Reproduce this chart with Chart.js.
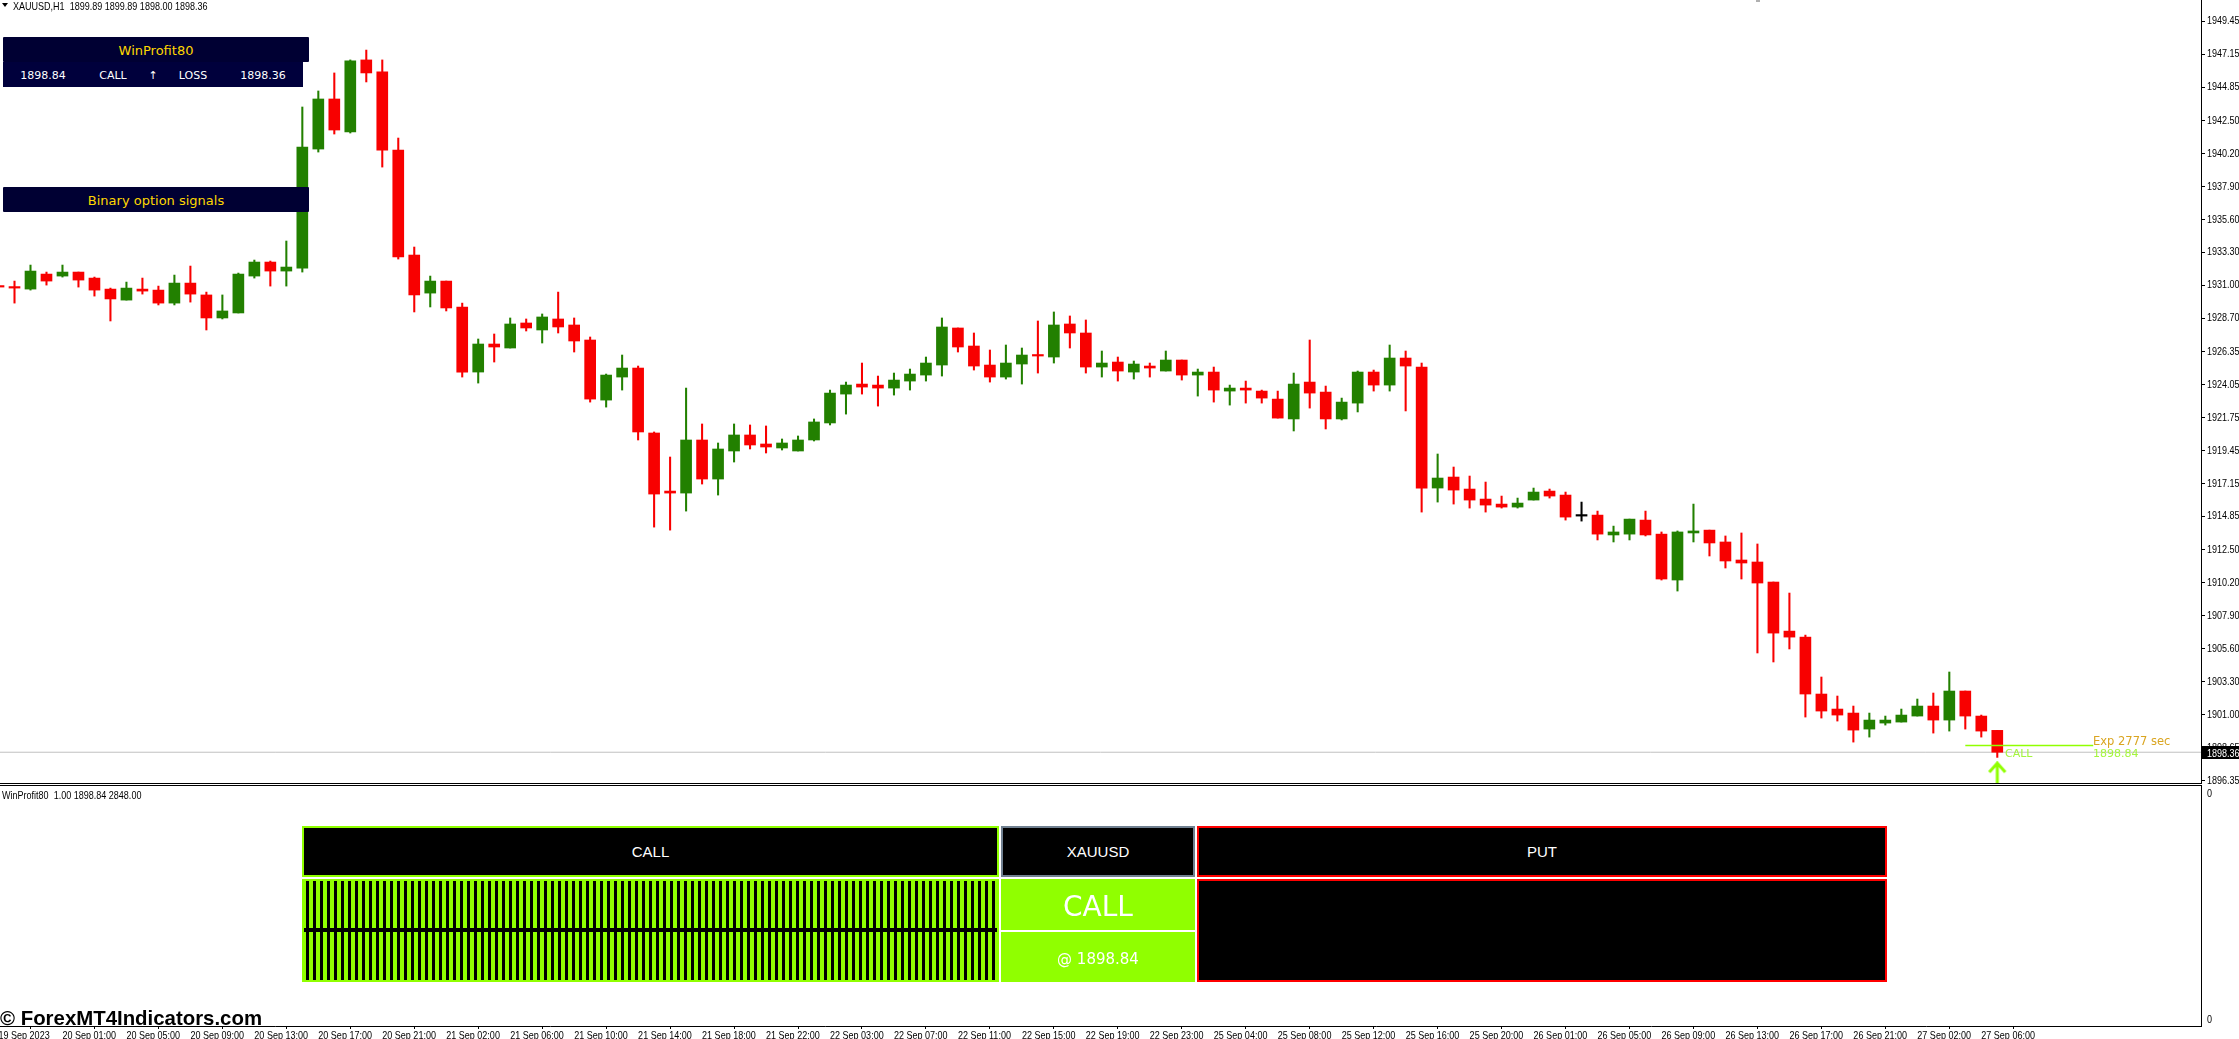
<!DOCTYPE html>
<html>
<head>
<meta charset="utf-8">
<title>XAUUSD H1</title>
<script src="https://cdn.jsdelivr.net/npm/chart.js@4/dist/chart.umd.min.js"></script>
<style>
    html, body { margin: 0; padding: 0; background: #fff; overflow: hidden; }
    #page { position: relative; width: 2239px; height: 1039px; overflow: hidden; }
    canvas { position: absolute; left: 0; display: block; }
    .box { position: absolute; box-sizing: border-box; display: flex; align-items: center; justify-content: center; white-space: pre; z-index: 5; }
    .txt { position: absolute; white-space: pre; z-index: 5; line-height: 1; }
    .sep { position: absolute; left: 0; width: 2202px; height: 1px; background: #000; z-index: 4; }
    .navy { background: #000033; color: #ffd700; font: 13px "DejaVu Sans", sans-serif; border-radius: 1px; padding-top: 2px; }
    .cell { background: #00003c; color: #fff; font: 11px "DejaVu Sans", sans-serif; padding-top: 2px; }
    .panel { background: #000; color: #fff; font: 15px "Liberation Sans", sans-serif; }
    .lime { background: #90ff00; color: #fff; }
    .small { font: 11px "Liberation Sans", sans-serif; color: #000; transform: scaleX(0.82); transform-origin: left center; }
    .stripes { background: repeating-linear-gradient(90deg, #90ff00 0, #90ff00 4px, #000 4px, #000 7px); background-position-x: -2px; }
</style>
</head>
<body>
<div id="page">
    <canvas id="priceChart" width="2239" height="790" style="top:0"></canvas>
    <canvas id="subChart" width="2239" height="253" style="top:786px"></canvas>
    <div class="sep" style="top:783px"></div>
    <div class="sep" style="top:785px"></div>
    <div style="position:absolute;left:1756px;top:0;width:4px;height:2px;background:#b0b0b0;"></div>

    <!-- chart header -->
    <div style="position:absolute;left:2px;top:3px;width:0;height:0;border-left:3.5px solid transparent;border-right:3.5px solid transparent;border-top:4px solid #000;z-index:5"></div>
    <div class="txt small" style="left:13px;top:0;">XAUUSD,H1  1899.89 1899.89 1898.00 1898.36</div>
    <div class="txt small" style="left:2px;top:789px;">WinProfit80  1.00 1898.84 2848.00</div>

    <!-- signal widgets, top left -->
    <div class="box navy" style="left:3px;top:37px;width:306px;height:25px;">WinProfit80</div>
    <div class="box cell" style="left:3px;top:62px;width:80px;height:25px;">1898.84</div>
    <div class="box cell" style="left:83px;top:62px;width:60px;height:25px;">CALL</div>
    <div class="box cell" style="left:143px;top:62px;width:20px;height:25px;">↑</div>
    <div class="box cell" style="left:163px;top:62px;width:60px;height:25px;">LOSS</div>
    <div class="box cell" style="left:223px;top:62px;width:80px;height:25px;">1898.36</div>
    <div class="box navy" style="left:3px;top:187px;width:306px;height:25px;">Binary option signals</div>

    <!-- labels next to the last bar -->
    <div class="txt" style="left:2005px;top:747px;font:11px 'DejaVu Sans',sans-serif;color:#a4f53c;">CALL</div>
    <div class="txt" style="left:2093px;top:734px;font:11.5px 'DejaVu Sans',sans-serif;color:#daa520;">Exp 2777 sec</div>
    <div class="txt" style="left:2093px;top:747px;font:11px 'DejaVu Sans',sans-serif;color:#a4f53c;">1898.84</div>
    <div class="box" style="left:2202px;top:746px;width:37px;height:13px;background:#000;z-index:5;"></div>
    <div class="txt small" style="left:2207px;top:747px;color:#fff;z-index:6;">1898.36</div>

    <!-- dashboard in the lower panel -->
    <div class="box panel" style="left:302px;top:826px;width:697px;height:51px;border:2px solid #90ff00;">CALL</div>
    <div class="box stripes" style="left:302px;top:879px;width:697px;height:103px;border:2px solid #90ff00;"></div>
    <div class="box" style="left:304px;top:928px;width:693px;height:4px;background:#000;"></div>
    <div class="box panel" style="left:1001px;top:826px;width:194px;height:51px;border:2px solid #708090;">XAUUSD</div>
    <div class="box lime" style="left:1001px;top:879px;width:194px;height:51px;font:28px 'DejaVu Sans',sans-serif;padding-top:4px;">CALL</div>
    <div class="box lime" style="left:1001px;top:932px;width:194px;height:50px;font:15px 'DejaVu Sans',sans-serif;padding-top:4px;">@ 1898.84</div>
    <div class="box panel" style="left:1197px;top:826px;width:690px;height:51px;border:2px solid #ff0000;">PUT</div>
    <div class="box panel" style="left:1197px;top:879px;width:690px;height:103px;border:2px solid #ff0000;"></div>

    <div class="txt" style="left:0;top:1007px;font:bold 20.4px 'Liberation Sans',sans-serif;color:#000;">© ForexMT4Indicators.com</div>
</div>

<script>
// Hourly bars, first entry is the bar cut by the left edge
const opens = [1930.95, 1930.88, 1930.74, 1931.79, 1931.65, 1931.93, 1931.51, 1930.74, 1929.97, 1930.74, 1930.67, 1929.76, 1931.16, 1930.33, 1928.72, 1929.07, 1931.65, 1932.63, 1932.00, 1932.21, 1940.53, 1944.03, 1941.72, 1946.76, 1945.92, 1940.46,
    1933.12, 1930.46, 1931.30, 1929.49, 1924.94, 1926.90, 1926.62, 1928.37, 1927.88, 1928.65, 1928.23, 1927.18, 1922.98, 1924.59, 1925.22, 1920.68, 1916.62, 1916.48, 1920.19, 1917.46, 1919.42, 1920.54, 1919.91, 1919.63, 1919.42,
    1920.19, 1921.38, 1923.40, 1924.10, 1924.03, 1923.82, 1924.31, 1924.73, 1925.43, 1928.02, 1926.76, 1925.43, 1924.59, 1925.50, 1926.13, 1925.99, 1928.30, 1927.67, 1925.29, 1925.64, 1924.94, 1925.36, 1925.01, 1925.78, 1924.73, 1924.94,
    1923.61, 1923.82, 1923.61, 1923.05, 1921.66, 1924.24, 1923.54, 1921.66, 1922.77, 1924.94, 1924.03, 1925.92, 1925.29, 1916.83, 1917.60, 1916.76, 1916.06, 1915.71, 1915.50, 1915.99, 1916.62, 1916.34, 1914.87, 1914.94, 1913.55,
    1913.61, 1914.59, 1913.61, 1910.40, 1913.69, 1913.89, 1913.06, 1911.80, 1911.66, 1910.26, 1906.83, 1906.41, 1902.43, 1901.38, 1901.10, 1899.98, 1900.40, 1900.47, 1900.89, 1901.59, 1900.61, 1902.64, 1900.89, 1899.89];
const closes = [1930.88, 1930.81, 1932.00, 1931.30, 1931.93, 1931.37, 1930.67, 1930.05, 1930.81, 1930.60, 1929.76, 1931.16, 1930.39, 1928.72, 1929.21, 1931.79, 1932.63, 1932.00, 1932.28, 1940.67, 1944.03, 1941.86, 1946.69, 1945.85, 1940.46, 1932.98,
    1930.33, 1931.30, 1929.42, 1924.94, 1926.90, 1926.69, 1928.30, 1928.02, 1928.79, 1928.09, 1927.11, 1923.05, 1924.73, 1925.22, 1920.75, 1916.41, 1916.48, 1920.19, 1917.46, 1919.56, 1920.54, 1919.84, 1919.70, 1919.98, 1920.19,
    1921.45, 1923.47, 1924.03, 1923.89, 1923.82, 1924.38, 1924.80, 1925.57, 1928.09, 1926.69, 1925.36, 1924.59, 1925.57, 1926.13, 1926.06, 1928.23, 1927.67, 1925.29, 1925.57, 1925.01, 1925.50, 1925.22, 1925.78, 1924.73, 1924.94, 1923.68,
    1923.82, 1923.68, 1923.12, 1921.72, 1924.10, 1923.47, 1921.66, 1922.84, 1924.94, 1924.03, 1925.92, 1925.36, 1916.83, 1917.53, 1916.69, 1915.99, 1915.64, 1915.50, 1915.78, 1916.55, 1916.27, 1914.80, 1914.87, 1913.61, 1913.76,
    1914.66, 1913.55, 1910.47, 1913.76, 1913.83, 1912.99, 1911.73, 1911.59, 1910.19, 1906.69, 1906.41, 1902.43, 1901.24, 1900.96, 1899.91, 1900.61, 1900.61, 1900.96, 1901.59, 1900.61, 1902.64, 1900.89, 1899.84, 1898.36];
const highs = [1930.95, 1931.30, 1932.42, 1931.93, 1932.42, 1931.93, 1931.58, 1930.81, 1931.23, 1931.51, 1930.95, 1931.72, 1932.35, 1930.53, 1930.33, 1931.86, 1932.77, 1932.70, 1934.10, 1943.47, 1944.59, 1945.85, 1946.76, 1947.45, 1946.76, 1941.30,
    1933.68, 1931.65, 1931.30, 1929.76, 1927.25, 1927.60, 1928.72, 1928.65, 1929.00, 1930.53, 1928.72, 1927.39, 1924.80, 1926.13, 1925.36, 1920.75, 1919.00, 1923.82, 1921.31, 1919.98, 1921.31, 1921.24, 1921.17, 1920.26, 1920.47,
    1921.66, 1923.68, 1924.24, 1925.57, 1924.66, 1924.87, 1925.15, 1925.99, 1928.72, 1928.02, 1927.67, 1926.48, 1926.83, 1926.62, 1928.51, 1929.14, 1928.86, 1928.58, 1926.41, 1925.99, 1925.71, 1925.57, 1926.41, 1925.78, 1925.15, 1925.29,
    1924.03, 1924.31, 1923.68, 1923.61, 1924.87, 1927.18, 1923.96, 1923.12, 1925.01, 1925.08, 1926.83, 1926.41, 1925.57, 1919.21, 1918.30, 1917.67, 1917.25, 1916.27, 1916.13, 1916.83, 1916.76, 1916.55, 1915.85, 1915.22, 1914.17,
    1914.66, 1915.22, 1913.76, 1913.83, 1915.71, 1913.89, 1913.48, 1913.69, 1912.92, 1910.26, 1909.49, 1906.55, 1903.62, 1902.29, 1901.59, 1901.10, 1900.89, 1901.38, 1902.08, 1902.50, 1903.97, 1902.64, 1900.96, 1899.89];
const lows = [1930.88, 1929.76, 1930.67, 1931.02, 1931.58, 1930.88, 1930.25, 1928.51, 1929.97, 1930.39, 1929.63, 1929.63, 1929.83, 1927.88, 1928.65, 1929.07, 1931.51, 1930.95, 1930.95, 1931.93, 1940.32, 1941.58, 1941.65, 1945.22, 1939.27, 1932.84,
    1929.14, 1929.49, 1929.21, 1924.59, 1924.17, 1925.64, 1926.62, 1927.81, 1926.97, 1927.67, 1926.34, 1922.84, 1922.49, 1923.68, 1920.19, 1914.10, 1913.89, 1915.22, 1917.11, 1916.34, 1918.65, 1919.56, 1919.28, 1919.49, 1919.42,
    1920.12, 1921.24, 1922.00, 1923.40, 1922.56, 1923.33, 1923.68, 1924.31, 1924.66, 1926.34, 1925.08, 1924.24, 1924.45, 1924.10, 1924.87, 1925.57, 1926.62, 1924.87, 1924.59, 1924.31, 1924.45, 1924.59, 1925.01, 1924.38, 1923.26, 1922.84,
    1922.63, 1922.77, 1922.77, 1921.72, 1920.82, 1922.42, 1920.96, 1921.59, 1922.15, 1923.61, 1923.61, 1922.22, 1915.15, 1915.85, 1915.71, 1915.43, 1915.15, 1915.43, 1915.43, 1915.99, 1916.13, 1914.59, 1914.52, 1913.20, 1913.06,
    1913.20, 1913.48, 1910.40, 1909.63, 1913.06, 1912.08, 1911.24, 1910.47, 1905.30, 1904.67, 1905.58, 1900.82, 1900.75, 1900.54, 1899.07, 1899.42, 1900.26, 1900.47, 1900.89, 1899.70, 1899.84, 1899.98, 1899.42, 1898.00];

// Price axis labels
const priceTicks = [1949.45, 1947.15, 1944.85, 1942.50, 1940.20, 1937.90, 1935.60, 1933.30, 1931.00, 1928.70, 1926.35, 1924.05, 1921.75, 1919.45, 1917.15, 1914.85, 1912.50, 1910.20, 1907.90, 1905.60, 1903.30, 1901.00, 1898.65, 1896.35];

// Time axis labels, one every 4 bars starting at the cut bar
const timeLabels = ['19 Sep 2023', '20 Sep 01:00', '20 Sep 05:00', '20 Sep 09:00', '20 Sep 13:00', '20 Sep 17:00', '20 Sep 21:00',
    '21 Sep 02:00', '21 Sep 06:00', '21 Sep 10:00', '21 Sep 14:00', '21 Sep 18:00', '21 Sep 22:00',
    '22 Sep 03:00', '22 Sep 07:00', '22 Sep 11:00', '22 Sep 15:00', '22 Sep 19:00', '22 Sep 23:00',
    '25 Sep 04:00', '25 Sep 08:00', '25 Sep 12:00', '25 Sep 16:00', '25 Sep 20:00',
    '26 Sep 01:00', '26 Sep 05:00', '26 Sep 09:00', '26 Sep 13:00', '26 Sep 17:00', '26 Sep 21:00',
    '27 Sep 02:00', '27 Sep 06:00'];

// Last price and the CALL signal
const lastPrice = 1898.36;
const signalPrice = 1898.84;
const signalBars = [122, 130];
const arrowBar = 124;
const arrowPrice = 1896.97;

const xMin = -0.907;
const xMax = 136.74;
const yMin = 1896.21;
const yMax = 1950.95;

const upColor = '#228000';
const downColor = '#f80000';
const signalColor = '#90ff00';
const axisFont = { family: "'Liberation Sans', sans-serif", size: 11 };

// Bar number on the x axis, the cut bar is -1
const barIndex = opens.map((o, i) => i - 1);
const barColors = opens.map((o, i) => closes[i] > o ? upColor : (closes[i] < o ? downColor : '#000'));
const bodies = opens.map((o, i) => ({ x: barIndex[i], y: [o, closes[i]] }));
const wicks = lows.map((l, i) => ({ x: barIndex[i], y: [l, highs[i]] }));

// Arrow under the last bar, used as a point image
function makeArrow() {
    const c = document.createElement('canvas');
    c.width = 20;
    c.height = 22;
    const g = c.getContext('2d');
    g.strokeStyle = signalColor;
    g.lineWidth = 3;
    g.beginPath();
    g.moveTo(10, 2);
    g.lineTo(10, 22);
    g.moveTo(2, 11);
    g.lineTo(10, 2);
    g.lineTo(18, 11);
    g.stroke();
    return c;
}

// No narrow font is installed, so squeeze the axis text with fillText's maxWidth
function squeezeText(canvasId) {
    const ctx = document.getElementById(canvasId).getContext('2d');
    const plainFill = ctx.fillText.bind(ctx);
    ctx.fillText = (text, x, y) => plainFill(text, x, y, ctx.measureText(text).width * 0.82);
}

// Keep the plot area at the canvas edges, labels may stick out
function noPadding(scale) {
    scale.paddingTop = 0;
    scale.paddingBottom = 0;
    scale.paddingLeft = 0;
    scale.paddingRight = 0;
}

squeezeText('priceChart');
squeezeText('subChart');

const priceChart = new Chart(document.getElementById('priceChart'), {
    data: {
        datasets: [
            {
                type: 'line',
                data: [{ x: xMin, y: lastPrice }, { x: xMax, y: lastPrice }],
                borderColor: '#c0c0c0',
                borderWidth: 1,
                pointRadius: 0,
                order: 5
            },
            {
                type: 'bar',
                data: wicks,
                backgroundColor: barColors,
                barThickness: 1.4,
                grouped: false,
                order: 4
            },
            {
                type: 'bar',
                data: bodies,
                backgroundColor: barColors,
                barThickness: 11,
                minBarLength: 1.5,
                grouped: false,
                order: 3
            },
            {
                type: 'line',
                data: signalBars.map(b => ({ x: b, y: signalPrice })),
                borderColor: signalColor,
                borderWidth: 1.5,
                pointRadius: 0,
                order: 2
            },
            {
                type: 'line',
                data: [{ x: arrowBar, y: arrowPrice }],
                showLine: false,
                pointStyle: makeArrow(),
                order: 1
            }
        ]
    },
    options: {
        responsive: false,
        animation: false,
        devicePixelRatio: 1,
        // canvas runs 7px past the plot so the lowest price label is not cut
        layout: { padding: { bottom: 7 }, autoPadding: false },
        plugins: { legend: { display: false }, tooltip: { enabled: false } },
        scales: {
            x: { type: 'linear', min: xMin, max: xMax, offset: false, display: false },
            y: {
                position: 'right',
                min: yMin,
                max: yMax,
                afterFit: scale => { scale.width = 38; noPadding(scale); },
                afterBuildTicks: scale => { scale.ticks = priceTicks.map(v => ({ value: v })); },
                border: { color: '#000' },
                grid: { drawOnChartArea: false, tickLength: 4, tickColor: '#000' },
                ticks: {
                    autoSkip: false,
                    padding: 2,
                    color: '#000',
                    font: axisFont,
                    callback: v => v.toFixed(2)
                }
            }
        }
    }
});

// Lower panel only holds the time axis and its two zero labels
const subChart = new Chart(document.getElementById('subChart'), {
    type: 'bar',
    data: { datasets: [] },
    options: {
        responsive: false,
        animation: false,
        devicePixelRatio: 1,
        layout: { padding: 0, autoPadding: false },
        plugins: { legend: { display: false }, tooltip: { enabled: false } },
        scales: {
            x: {
                type: 'linear',
                min: xMin,
                max: xMax,
                offset: false,
                afterFit: scale => { scale.height = 13; noPadding(scale); },
                afterBuildTicks: scale => { scale.ticks = timeLabels.map((t, i) => ({ value: i * 4 - 1 })); },
                border: { color: '#000' },
                grid: { drawOnChartArea: false, tickLength: 3, tickColor: '#000' },
                ticks: {
                    autoSkip: false,
                    maxRotation: 0,
                    align: 'start',
                    padding: 0,
                    color: '#000',
                    font: axisFont,
                    callback: (v, i) => timeLabels[i]
                }
            },
            y: {
                position: 'right',
                min: 0,
                max: 1,
                afterFit: scale => { scale.width = 38; noPadding(scale); },
                afterBuildTicks: scale => { scale.ticks = [{ value: 0.967 }, { value: 0.025 }]; },
                border: { color: '#000' },
                grid: { drawOnChartArea: false, tickLength: 4, tickColor: 'transparent' },
                ticks: {
                    autoSkip: false,
                    padding: 2,
                    color: '#000',
                    font: axisFont,
                    callback: () => '0'
                }
            }
        }
    }
});
</script>
</body>
</html>
